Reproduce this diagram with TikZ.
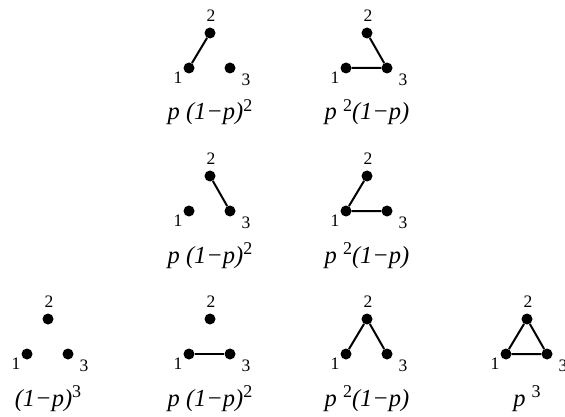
\documentclass[tikz,border=0pt]{standalone}
\usepackage{fontspec}
\setmainfont{Liberation Serif}
\begin{document}
\begin{tikzpicture}[x=1pt,y=-1pt,
  dot/.style={circle,fill=black,inner sep=0pt,minimum size=11pt},
  lbl/.style={inner sep=0pt,font=\fontsize{17.5}{17.5}\selectfont},
  expr/.style={inner sep=0pt,anchor=base,font=\fontsize{24.5}{24.5}\selectfont},
  edge/.style={line width=2pt}]
\newcommand\sq[1]{\raisebox{0.36em}{\fontsize{18}{18}\selectfont\upshape #1}}
\useasboundingbox (0,0) rectangle (565,417);
\newcommand\tri[3]{%
  \begin{scope}[shift={(#2,#3)}]
    \node[dot] (#1-2) at (0,0) {};
    \node[dot] (#1-1) at (-21,35) {};
    \node[dot] (#1-3) at (20,35) {};
    \node[lbl] (#1-l2) at (1,-17) {2};
    \node[lbl] (#1-l1) at (-32,45) {1};
    \node[lbl] (#1-l3) at (36,47) {3};
  \end{scope}}
% row 1
\tri{a}{210}{33}
\draw[edge] (a-1) -- (a-2);
\node[expr] (a-e) at (210,120) {\itshape p (1−p)\sq{2}};
\tri{b}{367}{33}
\draw[edge] (b-2) -- (b-3) (b-1) -- (b-3);
\node[expr] (b-e) at (367,120) {\itshape p \sq{2}(1−p)};
% row 2
\tri{c}{210}{176}
\draw[edge] (c-2) -- (c-3);
\node[expr] (c-e) at (210,263) {\itshape p (1−p)\sq{2}};
\tri{d}{367}{176}
\draw[edge] (d-2) -- (d-1) (d-1) -- (d-3);
\node[expr] (d-e) at (367,263) {\itshape p \sq{2}(1−p)};
% row 3
\tri{e}{48}{319}
\node[expr] (e-e) at (48,406) {\itshape (1−p)\sq{3}};
\tri{f}{210}{319}
\draw[edge] (f-1) -- (f-3);
\node[expr] (f-e) at (210,406) {\itshape p (1−p)\sq{2}};
\tri{g}{367}{319}
\draw[edge] (g-1) -- (g-2) (g-2) -- (g-3);
\node[expr] (g-e) at (367,406) {\itshape p \sq{2}(1−p)};
\tri{h}{527}{319}
\draw[edge] (h-1) -- (h-2) (h-2) -- (h-3) (h-3) -- (h-1);
\node[expr] (h-e) at (527,406) {\itshape p \sq{3}};
\end{tikzpicture}
\end{document}
